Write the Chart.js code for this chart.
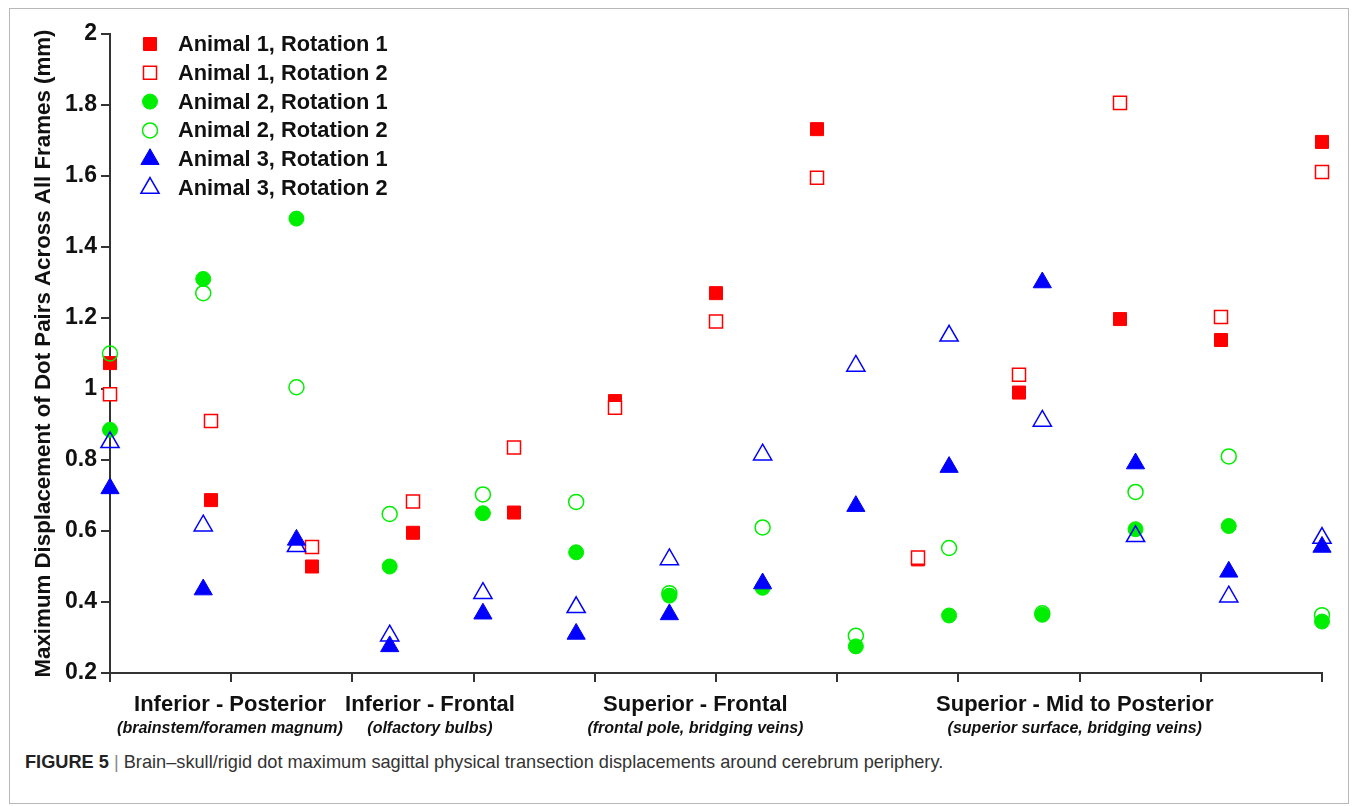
<!DOCTYPE html>
<html>
  <head>
    <meta charset="utf-8" />
    <script src="https://cdn.jsdelivr.net/npm/chart.js"></script>
    <title>Figure 5</title>
    <style>
      body { margin: 0; background: #fff; }
      .frame {
        position: absolute; left: 9px; top: 8px; width: 1338px; height: 794px;
        border: 1px solid #b8b8b8;
      }
      #chart { position: absolute; left: 0; top: 0; }
      .caption {
        position: absolute; left: 25px; top: 752px;
        font-family: "Liberation Sans Narrow", "Arial Narrow", "Liberation Sans", sans-serif;
        font-size: 18.2px; color: #333;
      }
      .caption b { color: #222; }
      .caption .bar { color: #888; }
    </style>
  </head>
  <body>
    <div class="frame"></div>
    <canvas id="chart" width="1357" height="745"></canvas>
    <div class="caption"><b>FIGURE 5</b> <span class="bar">|</span> Brain–skull/rigid dot maximum sagittal physical transection displacements around cerebrum periphery.</div>

    <script>
      // legend names
      var seriesNames = [
        "Animal 1, Rotation 1",
        "Animal 1, Rotation 2",
        "Animal 2, Rotation 1",
        "Animal 2, Rotation 2",
        "Animal 3, Rotation 1",
        "Animal 3, Rotation 2",
      ];

      // animal 1 : 13 dot pairs
      var a1r1 = [1.073, 0.687, 0.5, 0.595, 0.652, 0.966, 1.27, 1.732, 0.52, 0.99, 1.197, 1.138, 1.696];
      var a1r2 = [0.985, 0.91, 0.555, 0.683, 0.835, 0.947, 1.19, 1.595, 0.525, 1.04, 1.806, 1.203, 1.611];
      // animal 2, 3 : 14 dot pairs
      var a2r1 = [0.885, 1.31, 1.48, 0.5, 0.65, 0.54, 0.418, 0.44, 0.275, 0.362, 0.364, 0.605, 0.614, 0.345];
      var a2r2 = [1.1, 1.27, 1.005, 0.648, 0.703, 0.682, 0.425, 0.61, 0.305, 0.552, 0.368, 0.71, 0.81, 0.363];
      var a3r1 = [0.72, 0.435, 0.575, 0.275, 0.367, 0.31, 0.365, 0.452, 0.67, 0.78, 1.3, 0.79, 0.485, 0.555];
      var a3r2 = [0.85, 0.615, 0.557, 0.305, 0.425, 0.385, 0.52, 0.815, 1.065, 1.15, 0.91, 0.585, 0.415, 0.58];

      // regions along the periphery
      var regionNames = ["Inferior - Posterior", "Inferior - Frontal", "Superior - Frontal", "Superior - Mid to Posterior"];
      var regionNotes = ["(brainstem/foramen magnum)", "(olfactory bulbs)", "(frontal pole, bridging veins)", "(superior surface, bridging veins)"];

      var yTicks = [0.2, 0.4, 0.6, 0.8, 1, 1.2, 1.4, 1.6, 1.8, 2];
      var yTitle = "Maximum Displacement of Dot Pairs Across All Frames (mm)";

      var FONT = '"Liberation Sans", Arial, sans-serif';
      var RED = "#ff0000", GREEN = "#00ee00", BLUE = "#0000ff";

      // each animal's dots are spread over the whole periphery (0..10)
      function toPoints(values) {
        return values.map(function (v, i) {
          return { x: (i * 10) / (values.length - 1), y: v };
        });
      }

      function makeSet(idx, values, style, radius, color, filled, order) {
        return {
          label: seriesNames[idx],
          data: toPoints(values),
          pointStyle: style,
          pointRadius: radius,
          backgroundColor: filled ? color : (style === "rect" ? "#fff" : "rgba(0,0,0,0)"),
          borderColor: color,
          borderWidth: filled ? 1 : 1.5,
          showLine: false,
          clip: false,
          order: order,
        };
      }

      var datasets = [
        makeSet(0, a1r1, "rect", 9.2, RED, true, 6),
        makeSet(1, a1r2, "rect", 9.2, RED, false, 5),
        makeSet(2, a2r1, "circle", 7.5, GREEN, true, 4),
        makeSet(3, a2r2, "circle", 7.5, GREEN, false, 3),
        makeSet(4, a3r1, "triangle", 10.5, BLUE, true, 2),
        makeSet(5, a3r2, "triangle", 10.5, BLUE, false, 1),
      ];

      // legend + region labels
      var figureText = {
        id: "figureText",
        afterDraw: function (chart) {
          var ctx = chart.ctx;
          var area = chart.chartArea;
          var xs = chart.scales.x;
          var centers = [0.99, 2.64, 4.83, 7.96];

          ctx.save();
          ctx.fillStyle = "#111";
          ctx.textAlign = "center";
          ctx.textBaseline = "middle";
          regionNames.forEach(function (name, i) {
            var px = xs.getPixelForValue(centers[i]);
            ctx.font = "bold 22px " + FONT;
            ctx.fillText(name, px, area.bottom + 32);
            ctx.font = "italic bold 16px " + FONT;
            ctx.fillText(regionNotes[i], px, area.bottom + 56);
          });

          // legend in the top left corner
          ctx.textAlign = "left";
          ctx.font = "bold 21.8px " + FONT;
          chart.data.datasets.forEach(function (ds, i) {
            var y = area.top + 10 + i * 28.8;
            var x = area.left + 40;
            ctx.fillStyle = ds.backgroundColor;
            ctx.strokeStyle = ds.borderColor;
            ctx.lineWidth = ds.borderWidth;
            Chart.helpers.drawPoint(ctx, {
              pointStyle: ds.pointStyle,
              radius: ds.pointRadius,
              rotation: 0,
              borderWidth: ds.borderWidth,
            }, x, y);
            ctx.fillStyle = "#111";
            ctx.fillText(ds.label, x + 28, y + 1);
          });
          ctx.restore();
        },
      };

      new Chart(document.getElementById("chart"), {
        type: "scatter",
        data: { datasets: datasets },
        plugins: [figureText],
        options: {
          responsive: false,
          animation: false,
          events: [],
          layout: { padding: { left: 0, right: 35, top: 34, bottom: 0 } },
          plugins: { legend: { display: false }, tooltip: { enabled: false } },
          scales: {
            x: {
              type: "linear",
              min: 0,
              max: 10,
              afterBuildTicks: function (s) {
                var t = [];
                for (var i = 0; i <= 10; i++) t.push({ value: i });
                s.ticks = t;
              },
              afterFit: function (s) { s.height = 72; },
              border: { display: true, color: "#333", width: 2 },
              grid: { display: true, drawOnChartArea: false, drawTicks: true, tickLength: 9, color: "#333", lineWidth: 2 },
              ticks: { display: false },
            },
            y: {
              min: 0.2,
              max: 2,
              afterBuildTicks: function (s) {
                s.ticks = yTicks.map(function (v) { return { value: v }; });
              },
              afterFit: function (s) { s.width = 110; },
              border: { display: true, color: "#333", width: 2 },
              grid: { display: true, drawOnChartArea: false, drawTicks: true, tickLength: 9, color: "#333", lineWidth: 2 },
              ticks: {
                color: "#111",
                padding: 4,
                font: { family: FONT, size: 23, weight: "bold" },
                callback: function (v) { return String(parseFloat(Number(v).toFixed(1))); },
              },
              title: {
                display: true,
                text: yTitle,
                color: "#111",
                font: { family: FONT, size: 22.3, weight: "bold" },
                padding: { top: 30, bottom: 0 },
              },
            },
          },
        },
      });
    </script>
  </body>
</html>
